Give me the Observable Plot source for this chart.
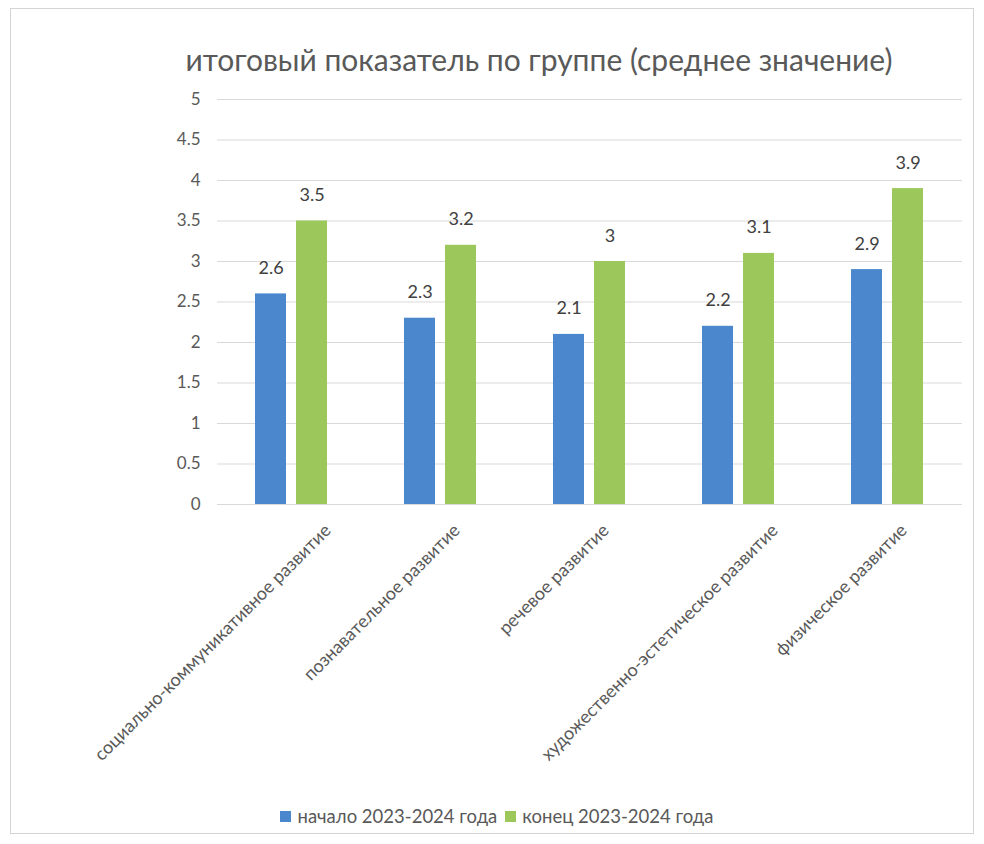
<!DOCTYPE html>
<html>
<head>
<meta charset="utf-8">
<script src="https://cdn.jsdelivr.net/npm/d3@7"></script>
<script src="https://cdn.jsdelivr.net/npm/@observablehq/plot@0.6"></script>
<style>
  html, body { margin: 0; padding: 0; background: #ffffff; }
  #wrap { position: absolute; left: 10px; top: 8px; width: 964px; height: 826px; border: 1px solid #d4d4d4; box-sizing: border-box; background: #fff; font-family: Lato, "Open Sans", sans-serif; }
  #title { margin-top: 30px; padding-left: 94px; height: 40px; line-height: 40px; text-align: center; font-size: 30px; color: #595959; }
  #chart { display: block; }
  #legend { display: flex; justify-content: center; align-items: center; padding-left: 10px; font-size: 18.5px; color: #595959; margin-top: 31px; }
  .sw { display: inline-block; width: 11px; height: 11px; margin-right: 6px; }
  .item { display: flex; align-items: center; margin: 0 4px; }
</style>
</head>
<body>
<div id="wrap">
  <div id="title">итоговый показатель по группе (среднее значение)</div>
  <div id="chart"></div>
  <div id="legend"></div>
</div>
<script>
const categories = [
  "социально-коммуникативное развитие",
  "познавательное развитие",
  "речевое развитие",
  "художественно-эстетическое развитие",
  "физическое развитие"
];
const series = ["начало 2023-2024 года", "конец 2023-2024 года"];
const startValues = [2.6, 2.3, 2.1, 2.2, 2.9];
const endValues = [3.5, 3.2, 3.0, 3.1, 3.9];
const yTicks = [0, 0.5, 1, 1.5, 2, 2.5, 3, 3.5, 4, 4.5, 5];
const colors = ["#4a87cc", "#9cc75a"];
const longLabels = [categories[0], categories[3]];

const data = categories.flatMap((c, i) => [
  {category: c, series: series[0], value: startValues[i]},
  {category: c, series: series[1], value: endValues[i]}
]);

const fxAxisStyle = {anchor: "bottom", tickRotate: -45, tickSize: 0, tickPadding: 23, fontSize: 18, fill: "#595959", label: null};

const chart = Plot.plot({
  width: 962,
  height: 695,
  marginTop: 20,
  marginLeft: 204,
  marginRight: 10,
  marginBottom: 270,
  style: {fontFamily: "Lato, 'Open Sans', sans-serif", fontSize: "16px", color: "#595959", background: "white"},
  fx: {domain: categories, padding: 0, label: null},
  x: {domain: series, axis: null, paddingInner: 0.24, paddingOuter: 0.9},
  y: {domain: [0, 5], label: null},
  color: {domain: series, range: colors},
  marks: [
    Plot.gridY(yTicks, {stroke: "#d9d9d9", strokeOpacity: 1}),
    Plot.axisY(yTicks, {tickSize: 0, tickPadding: 17, tickFormat: d => String(d), fontSize: 17, fill: "#595959", label: null}),
    Plot.axisFx({...fxAxisStyle, dx: 36, tickFormat: d => longLabels.includes(d) ? d : ""}),
    Plot.axisFx({...fxAxisStyle, dx: 16, tickFormat: d => longLabels.includes(d) ? "" : d}),
    Plot.barY(data, {fx: "category", x: "series", y: "value", fill: "series"}),
    Plot.text(data, {fx: "category", x: "series", y: "value", text: d => String(d.value), dy: -20, lineAnchor: "bottom", fontSize: 18, fill: "#404040"})
  ]
});
document.getElementById("chart").appendChild(chart);

const legend = document.getElementById("legend");
series.forEach((s, i) => {
  const item = document.createElement("span");
  item.className = "item";
  const sw = document.createElement("span");
  sw.className = "sw";
  sw.style.background = colors[i];
  item.appendChild(sw);
  item.appendChild(document.createTextNode(s));
  legend.appendChild(item);
});
</script>
</body>
</html>
